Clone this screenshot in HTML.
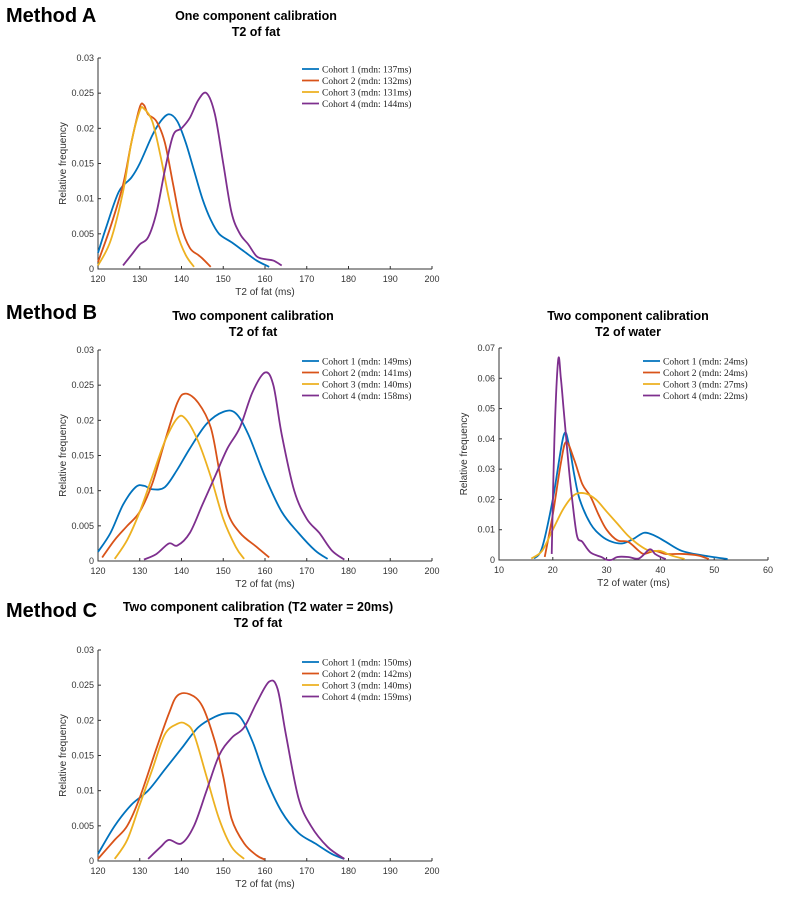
<!DOCTYPE html>
<html><head><meta charset="utf-8"><style>
body{margin:0;background:#fff;width:807px;height:904px;overflow:hidden;font-family:"Liberation Sans",sans-serif}
</style></head><body>
<svg id="s" width="807" height="904" xmlns="http://www.w3.org/2000/svg">
<text x="6" y="22" font-size="20" font-weight="bold">Method A</text>
<text x="256" y="20" font-size="12.5" font-weight="bold" text-anchor="middle">One component calibration</text>
<text x="256" y="36" font-size="12.5" font-weight="bold" text-anchor="middle">T2 of fat</text>
<text x="6" y="319" font-size="20" font-weight="bold">Method B</text>
<text x="253" y="320" font-size="12.5" font-weight="bold" text-anchor="middle">Two component calibration</text>
<text x="253" y="336" font-size="12.5" font-weight="bold" text-anchor="middle">T2 of fat</text>
<text x="628" y="320" font-size="12.5" font-weight="bold" text-anchor="middle">Two component calibration</text>
<text x="628" y="336" font-size="12.5" font-weight="bold" text-anchor="middle">T2 of water</text>
<text x="6" y="617" font-size="20" font-weight="bold">Method C</text>
<text x="258" y="611" font-size="12.5" font-weight="bold" text-anchor="middle">Two component calibration (T2 water = 20ms)</text>
<text x="258" y="627" font-size="12.5" font-weight="bold" text-anchor="middle">T2 of fat</text>
</svg>
<script>
const colors=["#0072BD","#D95319","#EDB120","#7E2F8E"];
const fatTicksX=[120,130,140,150,160,170,180,190,200];
const fatTicksY=[0,0.005,0.01,0.015,0.02,0.025,0.03];
const waterTicksX=[10,20,30,40,50,60];
const waterTicksY=[0,0.01,0.02,0.03,0.04,0.05,0.06,0.07];
const legendA=["Cohort 1 (mdn: 137ms)","Cohort 2 (mdn: 132ms)","Cohort 3 (mdn: 131ms)","Cohort 4 (mdn: 144ms)"];
const legendBF=["Cohort 1 (mdn: 149ms)","Cohort 2 (mdn: 141ms)","Cohort 3 (mdn: 140ms)","Cohort 4 (mdn: 158ms)"];
const legendBW=["Cohort 1 (mdn: 24ms)","Cohort 2 (mdn: 24ms)","Cohort 3 (mdn: 27ms)","Cohort 4 (mdn: 22ms)"];
const legendC=["Cohort 1 (mdn: 150ms)","Cohort 2 (mdn: 142ms)","Cohort 3 (mdn: 140ms)","Cohort 4 (mdn: 159ms)"];
const aX1=[120,122,125,128,130,133,135,137,139,141,143,145,147,149,152,155,158,161];
const aY1=[0.0023,0.006,0.011,0.013,0.015,0.019,0.021,0.022,0.021,0.018,0.014,0.010,0.007,0.005,0.0038,0.0025,0.0012,0.0003];
const aX2=[120,123,126,128,130,131,132,134,136,138,140,142,144,145,147];
const aY2=[0.001,0.006,0.012,0.018,0.023,0.0233,0.022,0.021,0.018,0.012,0.006,0.003,0.002,0.0015,0.0003];
const aX3=[120,123,126,128,130,131,133,135,137,139,141,143];
const aY3=[0.0005,0.004,0.011,0.018,0.0225,0.0228,0.021,0.016,0.010,0.005,0.002,0.0003];
const aX4=[126,128,130,132,134,136,138,140,142,144,146,148,150,152,154,156,158,160,162,164];
const aY4=[0.0005,0.002,0.0035,0.0045,0.008,0.014,0.019,0.020,0.0215,0.024,0.025,0.022,0.015,0.008,0.005,0.0035,0.0018,0.0014,0.0012,0.0005];
const bX1=[120,123,126,129,131,133,136,139,142,146,150,153,156,160,164,168,172,175];
const bY1=[0.0013,0.004,0.008,0.0105,0.0107,0.0102,0.0105,0.013,0.016,0.0195,0.0212,0.021,0.018,0.012,0.007,0.004,0.0015,0.0003];
const bX2=[121,124,127,130,133,136,139,141,144,147,149,151,154,158,161];
const bY2=[0.0005,0.003,0.005,0.007,0.011,0.017,0.0225,0.0238,0.0225,0.019,0.013,0.007,0.004,0.002,0.0005];
const bX3=[124,127,130,133,136,139,141,144,147,150,153,155];
const bY3=[0.0003,0.003,0.007,0.012,0.017,0.0203,0.0202,0.017,0.012,0.006,0.002,0.0003];
const bX4=[131,134,137,139,142,145,148,151,154,157,160,162,164,167,170,173,176,179];
const bY4=[0.0002,0.001,0.0025,0.0022,0.004,0.008,0.012,0.016,0.019,0.024,0.0268,0.025,0.018,0.01,0.006,0.004,0.0015,0.0002];
const wX1=[16.5,18,20,22,23,24,25,27,29,31,33,35,37,39,41,44,48,52.5];
const wY1=[0.0005,0.004,0.02,0.041,0.038,0.028,0.02,0.012,0.008,0.006,0.0055,0.007,0.009,0.008,0.006,0.003,0.0015,0.0003];
const wX2=[18.5,20,21.5,22.5,24,25.5,27,28.5,30,32,34,36,37,39,41,44,47,49];
const wY2=[0.001,0.015,0.032,0.039,0.033,0.025,0.021,0.015,0.01,0.0065,0.006,0.003,0.002,0.003,0.002,0.002,0.0015,0.0003];
const wX3=[16,18,20,22,24,26,28,30,32,34,36,38,40,42,44.5];
const wY3=[0.0005,0.003,0.01,0.017,0.0215,0.022,0.02,0.016,0.012,0.008,0.005,0.003,0.003,0.0015,0.0003];
const wX4=[19.8,20.3,21,21.5,22,22.5,23,23.6,24.5,25.5,27,29,30,31,32,34,36,38,39,40,41];
const wY4=[0.002,0.04,0.066,0.06,0.05,0.04,0.03,0.02,0.008,0.006,0.0025,0.001,0.0001,0.0001,0.001,0.001,0.0005,0.0035,0.002,0.001,0.0003];
const cX1=[120,124,128,132,136,140,144,148,151,154,157,160,164,168,172,176,179];
const cY1=[0.001,0.005,0.008,0.010,0.013,0.016,0.019,0.0205,0.021,0.0205,0.017,0.012,0.007,0.004,0.0025,0.001,0.0003];
const cX2=[120,124,127,130,134,137,139,142,145,148,150,152,155,158,160];
const cY2=[0.0003,0.003,0.005,0.009,0.016,0.021,0.0235,0.0237,0.022,0.017,0.012,0.006,0.0025,0.0008,0.0002];
const cX3=[124,127,130,133,136,139,141,143,146,149,152,155];
const cY3=[0.0003,0.003,0.008,0.013,0.018,0.0195,0.0195,0.018,0.012,0.006,0.002,0.0003];
const cX4=[132,135,137,140,143,146,149,152,155,158,161,163,165,168,171,175,179];
const cY4=[0.0003,0.002,0.003,0.0025,0.005,0.01,0.015,0.0175,0.019,0.0225,0.0255,0.0245,0.018,0.009,0.005,0.002,0.0003];

const NS="http://www.w3.org/2000/svg";
const svg=document.getElementById('s');
function el(t,a,p){const e=document.createElementNS(NS,t);for(const k in a)e.setAttribute(k,a[k]);(p||svg).appendChild(e);return e;}
function path(pts){let d=`M${pts[0][0]},${pts[0][1]}`;for(let i=0;i<pts.length-1;i++){const p0=pts[Math.max(0,i-1)],p1=pts[i],p2=pts[i+1],p3=pts[Math.min(pts.length-1,i+2)];
d+=` C${p1[0]+(p2[0]-p0[0])/6},${p1[1]+(p2[1]-p0[1])/6} ${p2[0]-(p3[0]-p1[0])/6},${p2[1]-(p3[1]-p1[1])/6} ${p2[0]},${p2[1]}`;}return d;}
function chart(name,L,R,T,B,tx,ty,xlabel,series,legend,lx,ly){
 const g=el('g',{});
 const x0=tx[0],x1=tx[tx.length-1],y0=ty[0],y1=ty[ty.length-1];
 const sx=v=>L+(v-x0)/(x1-x0)*(R-L), sy=v=>B-(v-y0)/(y1-y0)*(B-T);
 const ax=el('path',{d:`M${L},${T}V${B}H${R}`,stroke:'#333',fill:'none','stroke-width':1},g);
 
 tx.forEach(v=>{el('line',{x1:sx(v),x2:sx(v),y1:B,y2:B-3,stroke:'#333'},g);
  const t=el('text',{x:sx(v),y:B+13,'font-size':9,'text-anchor':'middle',fill:'#333'},g);t.textContent=v;
  });
 ty.forEach(v=>{el('line',{x1:L,x2:L+3,y1:sy(v),y2:sy(v),stroke:'#333'},g);
  const t=el('text',{x:L-4,y:sy(v)+3,'font-size':9,'text-anchor':'end',fill:'#333'},g);t.textContent=v;
  });
 const xl=el('text',{x:(L+R)/2,y:B+26,'font-size':10,'text-anchor':'middle',fill:'#333'},g);xl.textContent=xlabel;
 
 const yl=el('text',{x:0,y:0,'font-size':10,'text-anchor':'middle',fill:'#333',transform:`translate(${L-32},${(T+B)/2}) rotate(-90)`},g);yl.textContent='Relative frequency';
 
 series.forEach((s,i)=>{const pts=s[0].map((x,j)=>[sx(x),sy(s[1][j])]);
  const p=el('path',{d:path(pts),stroke:colors[i],fill:'none','stroke-width':1.8},g);
  });
 legend.forEach((t,i)=>{const y=ly+i*11.5;
  const ln=el('line',{x1:lx,x2:lx+17,y1:y,y2:y,stroke:colors[i],'stroke-width':1.8},g);
  
  const tt=el('text',{x:lx+20,y:y+3.5,'font-size':9.5,'font-family':'Liberation Serif, serif',fill:'#222'},g);tt.textContent=t;
  });
}
chart('chart-a-fat',98,432,58,269,fatTicksX,fatTicksY,'T2 of fat (ms)',[[aX1,aY1],[aX2,aY2],[aX3,aY3],[aX4,aY4]],legendA,302,69);
chart('chart-b-fat',98,432,350,561,fatTicksX,fatTicksY,'T2 of fat (ms)',[[bX1,bY1],[bX2,bY2],[bX3,bY3],[bX4,bY4]],legendBF,302,361);
chart('chart-b-water',499,768,348,560,waterTicksX,waterTicksY,'T2 of water (ms)',[[wX1,wY1],[wX2,wY2],[wX3,wY3],[wX4,wY4]],legendBW,643,361);
chart('chart-c-fat',98,432,650,861,fatTicksX,fatTicksY,'T2 of fat (ms)',[[cX1,cY1],[cX2,cY2],[cX3,cY3],[cX4,cY4]],legendC,302,662);
</script>
</body></html>
